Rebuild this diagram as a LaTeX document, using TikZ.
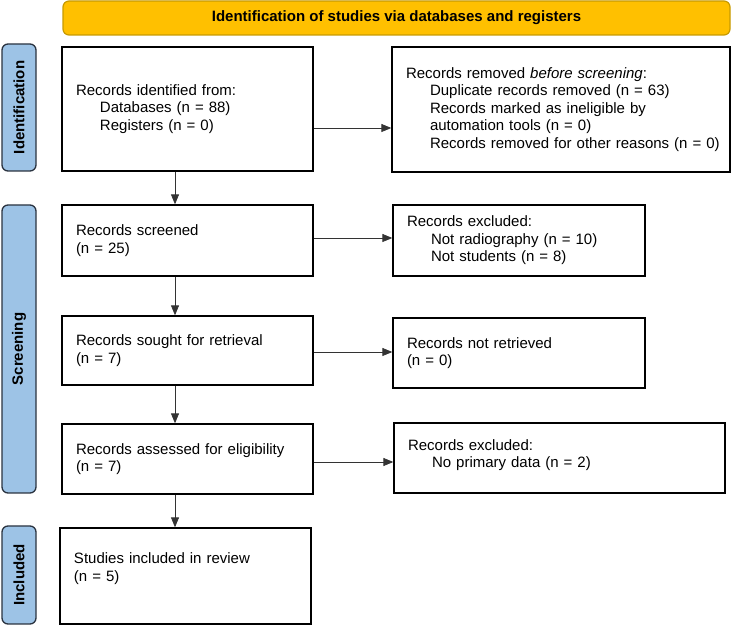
\documentclass[tikz,border=0pt]{standalone}
\usepackage{fontspec}
\setmainfont{Liberation Sans}
\usetikzlibrary{arrows.meta,calc}
\definecolor{barfill}{HTML}{FFC000}
\definecolor{bardraw}{HTML}{C79A00}
\definecolor{sidefill}{HTML}{9DC3E6}
\definecolor{sidedraw}{HTML}{2A3340}
\definecolor{linec}{HTML}{333333}
\begin{document}
\begin{tikzpicture}[x=1pt,y=-1pt,
  every node/.style={font=\fontsize{15}{17.5}\selectfont},
  box/.style={draw=black,line width=1.3pt,fill=white,rectangle,inner xsep=14pt,inner ysep=0pt,align=left,anchor=center},
  sidebar/.style={draw=sidedraw,line width=1.3pt,fill=sidefill,rounded corners=6pt,inner sep=0pt,anchor=center},
  sidelabel/.style={font=\fontsize{15}{17.5}\selectfont\bfseries,rotate=90},
  arr/.style={draw=linec,line width=0.9pt,-{Triangle[length=10pt,width=8pt]}}
]
\useasboundingbox (0,0) rectangle (732,628);
% top bar
\node[draw=bardraw,line width=1.2pt,fill=barfill,rounded corners=6pt,minimum width=667pt,minimum height=34pt,inner sep=0pt,font=\fontsize{15}{17.5}\selectfont\bfseries] (top) at (396.5,18) {Identification of studies via databases and registers};
% side bars
\node[sidebar,minimum width=34pt,minimum height=127pt] (sid) at (19,107.5) {};
\node[sidelabel] (sidl) at (sid.center) {Identification};
\node[sidebar,minimum width=34pt,minimum height=288pt] (sscr) at (19,349) {};
\node[sidelabel] (sscrl) at (sscr.center) {Screening};
\node[sidebar,minimum width=34pt,minimum height=98pt] (sinc) at (19,575) {};
\node[sidelabel] (sincl) at (sinc.center) {Included};
% boxes
\node[box,text width=223pt,minimum width=251pt,minimum height=124pt] (id1) at (187.5,109) {Records identified from:\\\hspace*{24pt}Databases (n = 88)\\\hspace*{24pt}Registers (n = 0)};
\node[box,text width=316pt,inner xsep=11pt,minimum width=338pt,minimum height=125pt] (rem) at (561,109.5) {\hspace*{3pt}Records removed \textit{before screening}:\\\hspace*{27pt}Duplicate records removed (n = 63)\\\hspace*{27pt}Records marked as ineligible by\\\hspace*{27pt}automation tools (n = 0)\\\hspace*{27pt}\mbox{Records removed for other reasons (n = 0)}};
\node[box,text width=223pt,minimum width=251pt,minimum height=71pt] (scr) at (187.5,240.5) {Records screened\\(n = 25)};
\node[box,text width=224pt,minimum width=252pt,minimum height=71pt] (exc1) at (519,240.5) {Records excluded:\\\hspace*{24pt}Not radiography (n = 10)\\\hspace*{24pt}Not students (n = 8)};
\node[box,text width=223pt,minimum width=251pt,minimum height=69pt] (sought) at (187.5,350.5) {Records sought for retrieval\\(n = 7)};
\node[box,text width=224pt,minimum width=252pt,minimum height=70pt] (notret) at (519,353) {Records not retrieved\\(n = 0)};
\node[box,text width=223pt,minimum width=251pt,minimum height=70pt] (assess) at (187.5,459) {Records assessed for eligibility\\(n = 7)};
\node[box,text width=303pt,minimum width=331pt,minimum height=70pt] (exc2) at (559.5,458) {Records excluded:\\\hspace*{24pt}No primary data (n = 2)\\[-9pt]\mbox{}};
\node[box,text width=223pt,minimum width=251pt,minimum height=96pt,inner xsep=13pt] (incl) at (185.5,576) {Studies included in review\\(n = 5)\\\mbox{}};
% connector guides
\coordinate (ax) at (175,0);
\coordinate (y1) at (0,128);
\coordinate (y2) at (0,238);
\coordinate (y3) at (0,352);
\coordinate (y4) at (0,462);
% vertical arrows
\draw[arr] (ax |- id1.south) -- (ax |- scr.north);
\draw[arr] (ax |- scr.south) -- (ax |- sought.north);
\draw[arr] (ax |- sought.south) -- (ax |- assess.north);
\draw[arr] (ax |- assess.south) -- (ax |- incl.north);
% horizontal arrows
\draw[arr] (id1.east |- y1) -- (rem.west |- y1);
\draw[arr] (scr.east |- y2) -- (exc1.west |- y2);
\draw[arr] (sought.east |- y3) -- (notret.west |- y3);
\draw[arr] (assess.east |- y4) -- (exc2.west |- y4);
\end{tikzpicture}
\end{document}
